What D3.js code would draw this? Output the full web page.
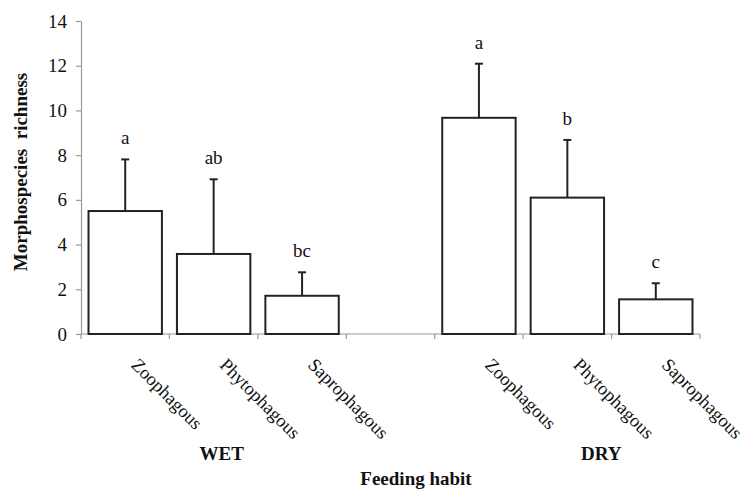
<!DOCTYPE html>
<html>
<head>
<meta charset="utf-8">
<script src="https://cdn.jsdelivr.net/npm/d3@7"></script>
<style>
    body { margin: 0; background: #fff; }
    text { font-family: "Liberation Serif", "Times New Roman", serif; fill: #111; }
</style>
</head>
<body>
<div id="chart"></div>
<script>
// data
const seasons = ["WET", "DRY"];
const habits = ["Zoophagous", "Phytophagous", "Saprophagous"];
const wetMeans = [5.5, 3.58, 1.71];
const wetSD = [2.31, 3.34, 1.05];
const wetLetters = ["a", "ab", "bc"];
const dryMeans = [9.67, 6.1, 1.55];
const drySD = [2.42, 2.58, 0.72];
const dryLetters = ["a", "b", "c"];
const yTicks = [0, 2, 4, 6, 8, 10, 12, 14];

function buildRows() {
    let rows = [];
    habits.forEach(function (h, i) {
        rows.push({key: "WET-" + h, habit: h, mean: wetMeans[i], sd: wetSD[i], letter: wetLetters[i]});
    });
    habits.forEach(function (h, i) {
        rows.push({key: "DRY-" + h, habit: h, mean: dryMeans[i], sd: drySD[i], letter: dryLetters[i]});
    });
    return rows;
}

function renderChart() {
    const width = 746, height = 490;
    const rows = buildRows();
    // empty slot between the two seasons
    const domain = rows.slice(0, 3).map(function (d) { return d.key; })
        .concat(["gap"])
        .concat(rows.slice(3).map(function (d) { return d.key; }));

    const svg = d3.select("#chart").append("svg")
        .attr("width", width)
        .attr("height", height);

    const x = d3.scaleBand()
        .domain(domain)
        .range([81, 700])
        .paddingInner(0.17)
        .paddingOuter(0.085);

    const y = d3.scaleLinear()
        .domain([0, 14])
        .range([334, 21]);

    // Y axis
    const yAxis = svg.append("g")
        .attr("transform", "translate(81,0)")
        .call(d3.axisLeft(y).tickValues(yTicks).tickSize(5).tickSizeOuter(0).tickPadding(9));
    yAxis.selectAll("path, line").attr("stroke", "#999").attr("stroke-width", 1.2);
    yAxis.selectAll("text")
        .style("font-family", "'Liberation Serif', serif")
        .style("font-size", "19px")
        .attr("fill", "#111");

    // X axis line + boundary ticks
    const step = x.step();
    const bounds = d3.range(domain.length + 1).map(function (i) { return 81 + i * step; });
    svg.append("line")
        .attr("x1", 81).attr("x2", 700)
        .attr("y1", y(0)).attr("y2", y(0))
        .attr("stroke", "#999").attr("stroke-width", 1.2);
    svg.selectAll("x-tick")
        .data(bounds)
        .enter()
        .append("line")
        .attr("x1", function (d) { return d; })
        .attr("x2", function (d) { return d; })
        .attr("y1", y(0))
        .attr("y2", y(0) + 5)
        .attr("stroke", "#999").attr("stroke-width", 1.2);

    // bars
    svg.selectAll("bar")
        .data(rows)
        .enter()
        .append("rect")
        .attr("x", function (d) { return x(d.key); })
        .attr("y", function (d) { return y(d.mean); })
        .attr("width", x.bandwidth())
        .attr("height", function (d) { return y(0) - y(d.mean); })
        .attr("fill", "#fff")
        .attr("stroke", "#222")
        .attr("stroke-width", 2);

    // error bars (upper only)
    const cx = function (d) { return x(d.key) + x.bandwidth() / 2; };
    svg.selectAll("err")
        .data(rows)
        .enter()
        .append("line")
        .attr("x1", cx).attr("x2", cx)
        .attr("y1", function (d) { return y(d.mean); })
        .attr("y2", function (d) { return y(d.mean + d.sd); })
        .attr("stroke", "#222").attr("stroke-width", 2);
    svg.selectAll("err-cap")
        .data(rows)
        .enter()
        .append("line")
        .attr("x1", function (d) { return cx(d) - 4; })
        .attr("x2", function (d) { return cx(d) + 4; })
        .attr("y1", function (d) { return y(d.mean + d.sd); })
        .attr("y2", function (d) { return y(d.mean + d.sd); })
        .attr("stroke", "#222").attr("stroke-width", 2);

    // significance letters
    svg.selectAll("letter")
        .data(rows)
        .enter()
        .append("text")
        .attr("x", cx)
        .attr("y", function (d) { return y(d.mean + d.sd) - 15; })
        .attr("text-anchor", "middle")
        .style("font-size", "19px")
        .text(function (d) { return d.letter; });

    // rotated category labels
    svg.selectAll("cat-label")
        .data(rows)
        .enter()
        .append("text")
        .attr("transform", function (d) {
            return "translate(" + (cx(d) + 5) + "," + 366 + ") rotate(45)";
        })
        .attr("text-anchor", "start")
        .style("font-size", "18.5px")
        .text(function (d) { return d.habit; });

    // season labels
    const seasonX = [x("WET-Phytophagous") + x.bandwidth() / 2 + 8, x("DRY-Phytophagous") + x.bandwidth() / 2 + 34];
    svg.selectAll("season")
        .data(seasons)
        .enter()
        .append("text")
        .attr("x", function (d, i) { return seasonX[i]; })
        .attr("y", 460)
        .attr("text-anchor", "middle")
        .style("font-size", "19px")
        .style("font-weight", "bold")
        .text(function (d) { return d; });

    // axis titles
    svg.append("text")
        .attr("x", 416)
        .attr("y", 485)
        .attr("text-anchor", "middle")
        .style("font-size", "19px")
        .style("font-weight", "bold")
        .text("Feeding habit");

    svg.append("text")
        .attr("transform", "translate(27," + 172 + ") rotate(-90)")
        .attr("text-anchor", "middle")
        .style("font-size", "19px")
        .style("font-weight", "bold")
        .style("white-space", "pre")
        .text("Morphospecies  richness");
}

renderChart();
</script>
</body>
</html>
